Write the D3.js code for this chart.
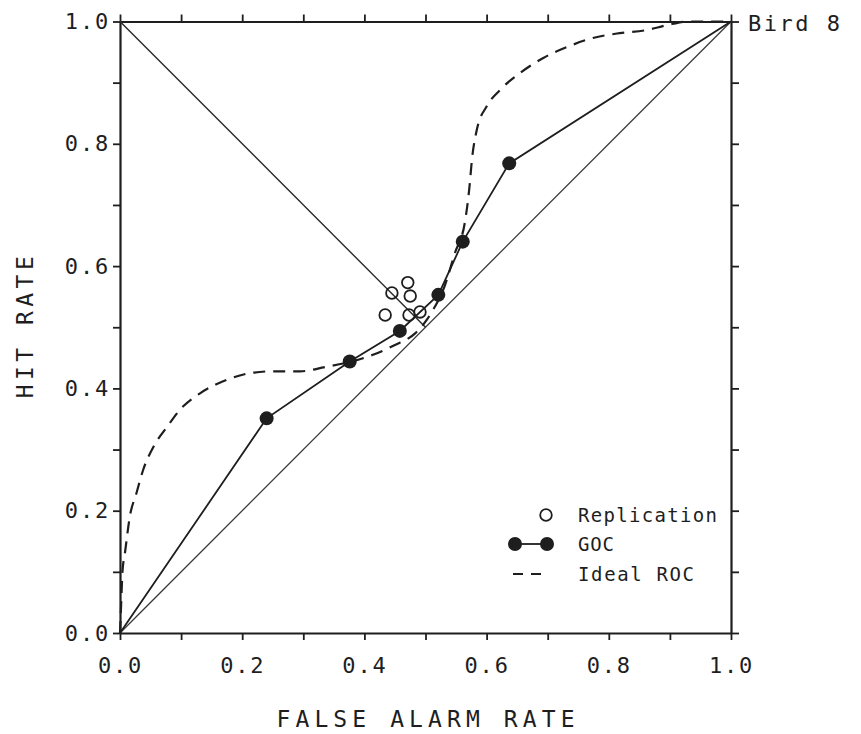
<!DOCTYPE html>
<html>
<head>
<meta charset="utf-8">
<script src="https://cdn.jsdelivr.net/npm/d3@7/dist/d3.min.js"></script>
<style>
  html, body { margin: 0; padding: 0; background: #fff; }
  svg { display: block; }
  text { font-family: "DejaVu Sans Mono", "Liberation Mono", monospace; fill: #1e1e1e; }
</style>
</head>
<body>
<svg id="chart" width="861" height="734"></svg>
<script>
// GOC operating points (false alarm rate, hit rate)
const gocFalseAlarm = [0.240, 0.376, 0.458, 0.521, 0.561, 0.637];
const gocHit        = [0.351, 0.444, 0.494, 0.553, 0.640, 0.768];

// Replication points
const repFalseAlarm = [0.445, 0.471, 0.475, 0.434, 0.473, 0.491];
const repHit        = [0.556, 0.573, 0.551, 0.520, 0.520, 0.525];

// Ideal ROC curve
const idealFalseAlarm = [0, 0.002, 0.004, 0.008, 0.016, 0.027, 0.038, 0.055, 0.077, 0.098, 0.131, 0.175, 0.213, 0.25, 0.295, 0.336, 0.375, 0.414, 0.45, 0.483, 0.502, 0.515, 0.529, 0.548, 0.565, 0.572, 0.576, 0.584, 0.6, 0.622, 0.655, 0.692, 0.731, 0.774, 0.818, 0.862, 0.895, 0.93, 1];
const idealHit        = [0, 0.05, 0.1, 0.13, 0.19, 0.229, 0.267, 0.305, 0.337, 0.365, 0.392, 0.414, 0.425, 0.428, 0.428, 0.435, 0.443, 0.455, 0.471, 0.49, 0.512, 0.533, 0.561, 0.621, 0.675, 0.73, 0.774, 0.823, 0.861, 0.888, 0.916, 0.94, 0.958, 0.973, 0.981, 0.986, 0.994, 1.0, 1];

// Axis ticks
const tickValues = [0, 0.1, 0.2, 0.3, 0.4, 0.5, 0.6, 0.7, 0.8, 0.9, 1.0];
const labeledTicks = [0, 0.2, 0.4, 0.6, 0.8, 1.0];

const legendLabels = ["Replication", "GOC", "Ideal ROC"];

const svg = d3.select("#chart");
const x = d3.scaleLinear().domain([0, 1]).range([120, 731]);
const y = d3.scaleLinear().domain([0, 1]).range([633, 21.5]);
const ink = "#1e1e1e";

const isLabeled = v => labeledTicks.some(t => Math.abs(t - v) < 1e-9);
const fmt = v => isLabeled(v) ? d3.format(".1f")(v) : "";

function styleAxis(g) {
  g.select(".domain").attr("stroke", ink).attr("stroke-width", 2.2);
  g.selectAll(".tick line").attr("stroke", ink).attr("stroke-width", 1.8);
  g.selectAll(".tick text")
    .attr("fill", ink)
    .style("font-size", "22px")
    .style("font-family", "'DejaVu Sans Mono', monospace")
    .style("letter-spacing", "1.8px");
}

// Axes on all four sides
svg.append("g").attr("transform", `translate(0,${y(0)})`)
  .call(d3.axisBottom(x).tickValues(tickValues).tickFormat(fmt).tickSize(7).tickSizeOuter(0).tickPadding(17))
  .call(styleAxis);
svg.append("g").attr("transform", `translate(${x(0)},0)`)
  .call(d3.axisLeft(y).tickValues(tickValues).tickFormat(fmt).tickSize(7).tickSizeOuter(0).tickPadding(3))
  .call(styleAxis);
svg.append("g").attr("transform", `translate(0,${y(1)})`)
  .call(d3.axisTop(x).tickValues(tickValues).tickFormat("").tickSize(7).tickSizeOuter(0))
  .call(styleAxis);
svg.append("g").attr("transform", `translate(${x(1)},0)`)
  .call(d3.axisRight(y).tickValues(tickValues).tickFormat("").tickSize(8).tickSizeOuter(0))
  .call(styleAxis);

const line = d3.line().x(d => x(d[0])).y(d => y(d[1]));

// Chance diagonal
svg.append("path").datum([[0, 0], [1, 1]])
  .attr("d", line).attr("fill", "none").attr("stroke", "#3a3a3a").attr("stroke-width", 1.3);

// Negative diagonal from (0,1)
svg.append("path").datum([[0, 1], [0.5, 0.5]])
  .attr("d", line).attr("fill", "none").attr("stroke", "#2a2a2a").attr("stroke-width", 1.4);

// Ideal ROC (dashed)
const idealPts = idealFalseAlarm.map((v, i) => [v, idealHit[i]]);
svg.append("path").datum(idealPts)
  .attr("d", d3.line().x(d => x(d[0])).y(d => y(d[1])).curve(d3.curveMonotoneX))
  .attr("fill", "none").attr("stroke", ink).attr("stroke-width", 2.2)
  .attr("stroke-dasharray", "12,8");

// GOC line through its points, anchored at (0,0) and (1,1)
const gocPts = gocFalseAlarm.map((v, i) => [v, gocHit[i]]);
svg.append("path").datum([[0, 0], ...gocPts, [1, 1]])
  .attr("d", line).attr("fill", "none").attr("stroke", ink).attr("stroke-width", 1.8);

svg.append("g").selectAll("circle").data(gocPts).join("circle")
  .attr("cx", d => x(d[0])).attr("cy", d => y(d[1])).attr("r", 7)
  .attr("fill", ink);

// Replication points (open)
const repPts = repFalseAlarm.map((v, i) => [v, repHit[i]]);
svg.append("g").selectAll("circle").data(repPts).join("circle")
  .attr("cx", d => x(d[0])).attr("cy", d => y(d[1])).attr("r", 5.8)
  .attr("fill", "none").attr("stroke", ink).attr("stroke-width", 1.8);

// Axis titles
svg.append("text")
  .attr("x", (x(0) + x(1)) / 2).attr("y", 727)
  .attr("text-anchor", "middle")
  .attr("textLength", 298).attr("lengthAdjust", "spacing")
  .style("font-size", "23px")
  .text("FALSE ALARM RATE");

svg.append("text")
  .attr("transform", `translate(33,${(y(0) + y(1)) / 2}) rotate(-90)`)
  .attr("text-anchor", "middle")
  .attr("textLength", 142).attr("lengthAdjust", "spacing")
  .style("font-size", "23px")
  .text("HIT RATE");

// Panel label
svg.append("text")
  .attr("x", 748).attr("y", 31)
  .attr("textLength", 92).attr("lengthAdjust", "spacing")
  .style("font-size", "22px")
  .text("Bird 8");

// Legend
const legendRows = [515, 544, 574];
const lg = svg.append("g");
lg.append("circle").attr("cx", 546).attr("cy", legendRows[0]).attr("r", 5.8)
  .attr("fill", "none").attr("stroke", ink).attr("stroke-width", 1.8);
lg.append("line").attr("x1", 515).attr("x2", 547).attr("y1", legendRows[1]).attr("y2", legendRows[1])
  .attr("stroke", ink).attr("stroke-width", 1.8);
lg.selectAll("circle.f").data([515, 547]).join("circle").attr("class", "f")
  .attr("cx", d => d).attr("cy", legendRows[1]).attr("r", 7).attr("fill", ink);
lg.append("line").attr("x1", 513).attr("x2", 544).attr("y1", legendRows[2]).attr("y2", legendRows[2])
  .attr("stroke", ink).attr("stroke-width", 2).attr("stroke-dasharray", "10,8");

const legendWidths = [139, 36, 116];
lg.selectAll("text").data(legendLabels).join("text")
  .attr("x", 578).attr("y", (d, i) => legendRows[i] + 7)
  .attr("textLength", (d, i) => legendWidths[i]).attr("lengthAdjust", "spacing")
  .style("font-size", "19px")
  .text(d => d);
</script>
</body>
</html>
